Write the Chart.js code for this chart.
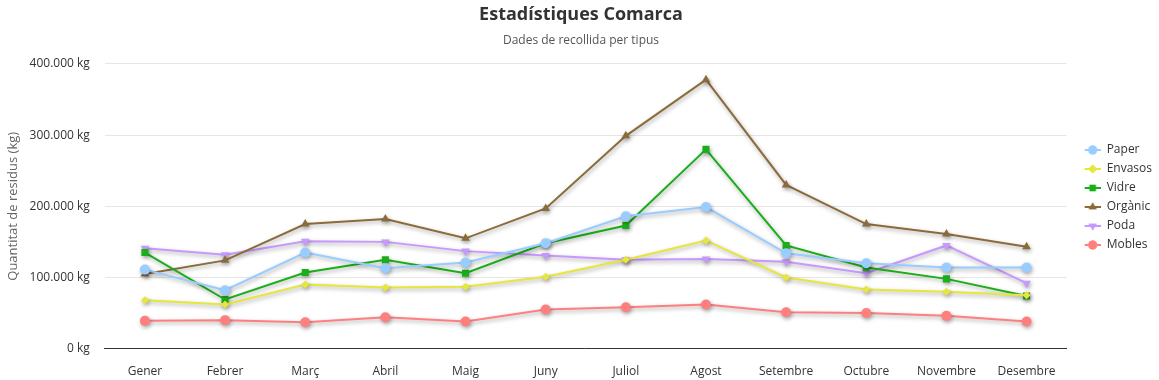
<!DOCTYPE html>
<html><head><meta charset="utf-8">
<script src="https://cdn.jsdelivr.net/npm/chart.js@4"></script>
<style>html,body{margin:0;padding:0;background:#fff}#wrap{width:1159px;height:380px}</style>
</head><body><div id="wrap"><canvas id="c" width="1159" height="380"></canvas></div>
<script>
const months = ['Gener','Febrer','Març','Abril','Maig','Juny','Juliol','Agost','Setembre','Octubre','Novembre','Desembre'];
const paper   = [111000, 82000, 135000, 113000, 121000, 148000, 186000, 199000, 134000, 120000, 114000, 114000];
const envasos = [68000, 62000, 90000, 86000, 87000, 101000, 125000, 152000, 100000, 83000, 80000, 75000];
const vidre   = [135000, 69000, 107000, 125000, 106000, 148000, 173000, 280000, 145000, 114000, 98000, 74000];
const organic = [105000, 124000, 175000, 182000, 155000, 197000, 299000, 378000, 230000, 175000, 161000, 143000];
const poda    = [141000, 132000, 151000, 150000, 137000, 131000, 125000, 126000, 122000, 106000, 145000, 92000];
const mobles  = [39000, 40000, 37000, 44000, 38000, 55000, 58000, 62000, 51000, 50000, 46000, 38000];
const yTicks  = [0, 100000, 200000, 300000, 400000];

const FONT = "'Open Sans', 'Noto Sans', sans-serif";
function fmt(v){ return String(v).replace(/\B(?=(\d{3})+(?!\d))/g,'.') + ' kg'; }

const defs = [
  {label:'Paper', data:paper, color:'#99ccff', style:'circle', r:5},
  {label:'Envasos', data:envasos, color:'#e6e63c', style:'rectRot', r:4},
  {label:'Vidre', data:vidre, color:'#1aaf1a', style:'rect', r:5},
  {label:'Orgànic', data:organic, color:'#8b6b3a', style:'triangle', r:5},
  {label:'Poda', data:poda, color:'#c799ff', style:'triangle', r:5, rot:180},
  {label:'Mobles', data:mobles, color:'#ff7f7f', style:'circle', r:5}
];

const ICON_W = 27, ICON_BLANK = 11;
function legendIcon(d){
  const c = document.createElement('canvas');
  c.width = ICON_W; c.height = 12;
  const x = c.getContext('2d');
  x.strokeStyle = d.color; x.lineWidth = 2;
  x.beginPath(); x.moveTo(ICON_BLANK,6); x.lineTo(ICON_W,6); x.stroke();
  x.fillStyle = d.color;
  Chart.helpers.drawPoint(x, {pointStyle:d.style, rotation:d.rot||0, radius:4.5, borderWidth:0}, (ICON_BLANK+ICON_W)/2, 6);
  x.fill();
  return c;
}

const shadow = {
  id:'shadow',
  beforeDatasetDraw(chart){ const x=chart.ctx; x.save(); x.shadowColor='rgba(0,0,0,0.35)'; x.shadowBlur=4; x.shadowOffsetX=1; x.shadowOffsetY=2; },
  afterDatasetDraw(chart){ chart.ctx.restore(); }
};

new Chart(document.getElementById('c'), {
  type:'line',
  data:{
    labels: months,
    datasets: defs.map(d=>({
      label:d.label, data:d.data, borderColor:d.color, backgroundColor:d.color,
      pointStyle:d.style, pointRotation:d.rot||0, pointRadius:d.r, pointBorderWidth:0,
      pointHoverRadius:d.r, borderWidth:2, tension:0, fill:false
    }))
  },
  plugins:[shadow],
  options:{
    responsive:false, animation:false,
    layout:{padding:{left:0,right:-3,top:0,bottom:-15}},
    plugins:{
      title:{display:true, text:'Estadístiques Comarca', color:'#333', font:{family:FONT, size:18, weight:'bold'}, padding:{top:4,bottom:8}},
      subtitle:{display:true, text:'Dades de recollida per tipus', color:'#555', font:{family:FONT, size:12}, padding:{bottom:16}},
      legend:{position:'right', align:'center',
        labels:{ color:'#333', font:{family:FONT, size:12}, usePointStyle:true, pointStyleWidth:ICON_W, padding:7,
          generateLabels(chart){
            return defs.map((d,i)=>({text:d.label, fillStyle:d.color, strokeStyle:d.color, lineWidth:0, pointStyle:legendIcon(d), datasetIndex:i, hidden:false, fontColor:'#333'}));
          }
        }
      },
      tooltip:{enabled:false}
    },
    scales:{
      x:{ offset:true, grid:{display:false, drawTicks:false}, border:{display:true, color:'#333', width:1},
          ticks:{color:'#333', font:{family:FONT, size:12}, padding:16, maxRotation:0} },
      y:{ min:0, max:400000, afterBuildTicks(ax){ ax.ticks = yTicks.map(v=>({value:v})); },
          grid:{color:'#e6e6e6', drawTicks:false}, border:{display:false},
          ticks:{color:'#333', font:{family:FONT, size:12}, padding:15, callback:v=>fmt(v)},
          title:{display:true, text:'Quantitat de residus (kg)', color:'#666', font:{family:FONT, size:13}, padding:{top:5,bottom:-6}} }
    }
  }
});
</script></body></html>
